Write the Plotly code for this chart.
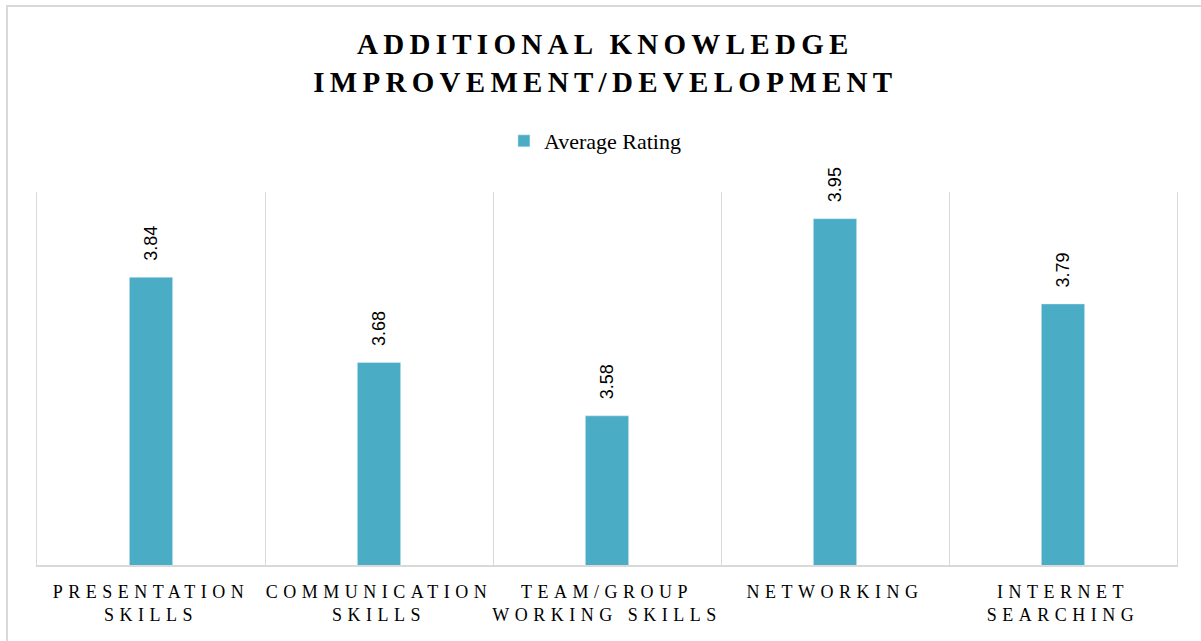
import plotly.graph_objects as go

categories = ["PRESENTATION<br>SKILLS", "COMMUNICATION<br>SKILLS", "TEAM/GROUP<br>WORKING SKILLS",
              "NETWORKING", "INTERNET<br>SEARCHING"]
values = [3.84, 3.68, 3.58, 3.95, 3.79]
series_name = "Average Rating"
title_text = "ADDITIONAL KNOWLEDGE<br>IMPROVEMENT/DEVELOPMENT"

BAR = "#4BACC6"
GRID = "#D9D9D9"
SERIF = "Liberation Serif, Times New Roman, serif"

fig = go.Figure()
fig.add_trace(go.Bar(x=categories, y=values, name=series_name, marker_color=BAR,
                     width=0.19, showlegend=True))

for c, v in zip(categories, values):
    fig.add_annotation(x=c, y=v, text=f"{v:.2f}", textangle=-90, showarrow=False,
                       yanchor="bottom", yshift=14,
                       font=dict(family="Liberation Sans, Arial, sans-serif", size=18, color="#000000"))

fig.add_shape(type="rect", xref="paper", yref="paper", x0=-0.0263, x1=1.03, y0=-0.25, y1=1.4987,
              line=dict(color=GRID, width=2), fillcolor="rgba(0,0,0,0)", layer="above")

fig.update_layout(
    width=1201, height=641,
    margin=dict(l=37, r=24, t=192, b=76),
    paper_bgcolor="white", plot_bgcolor="white",
    title=dict(text=title_text, x=0.4985, xref="paper", xanchor="center",
               y=0.916, yref="container", yanchor="middle",
               font=dict(family=SERIF, size=29, color="#000000", weight="bold")),
    legend=dict(orientation="h", x=0.4096, xanchor="left", y=1.1367, yanchor="middle",
                font=dict(family=SERIF, size=22, color="#000000"), bgcolor="rgba(0,0,0,0)"),
    xaxis=dict(type="category", tickson="boundaries", showgrid=True, gridcolor=GRID, gridwidth=1,
               showline=True, linecolor=GRID, linewidth=2, ticks="", ticklabelstandoff=9,
               tickfont=dict(family=SERIF, size=18, color="#000000"), fixedrange=True),
    yaxis=dict(range=[3.3, 4.0], showticklabels=False, showgrid=False, zeroline=False,
               showline=True, mirror=True, linecolor=GRID, linewidth=1, ticks="", fixedrange=True),
    bargap=0.81,
)

post = """
document.body.style.margin = '0';
var gd = document.getElementById('{plot_id}');
function ls(){
  gd.querySelectorAll('.gtitle').forEach(function(e){e.setAttribute('letter-spacing','5.3px');});
  gd.querySelectorAll('.xtick text').forEach(function(e){e.setAttribute('letter-spacing','5.5px');});
}
ls();
gd.on('plotly_afterplot', ls);
"""

fig.write_html("out.html", post_script=post, config={"displayModeBar": False})
